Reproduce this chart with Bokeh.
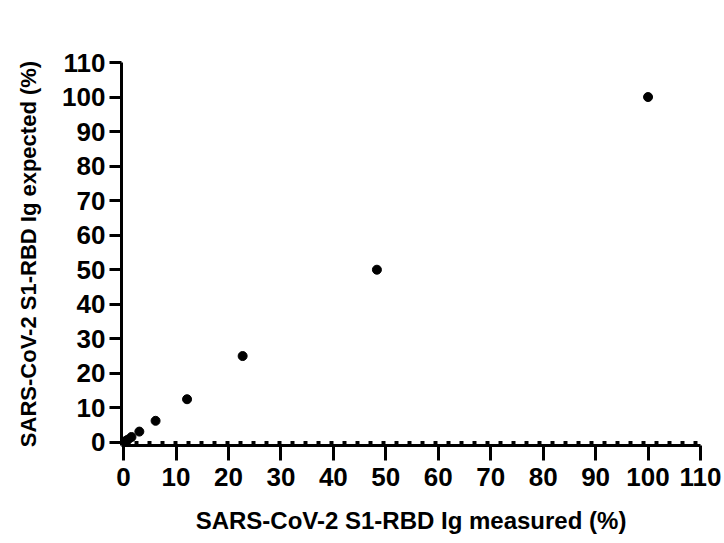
from bokeh.plotting import figure
from bokeh.models import Range1d, FixedTicker, Span
from bokeh.embed import file_html
from bokeh.resources import INLINE

measured = [100, 48.3, 22.7, 12.1, 6.1, 3.0, 1.5, 0.8, 0.4]
expected = [100, 50, 25, 12.5, 6.25, 3.13, 1.56, 0.78, 0.39]
ticks = list(range(0, 111, 10))

p = figure(width=724, height=543, output_backend="svg", toolbar_location=None,
           x_range=Range1d(-0.4, 110), y_range=Range1d(-0.9, 110),
           min_border_left=121, min_border_right=24, min_border_top=62, min_border_bottom=98)
p.outline_line_color = None
p.grid.grid_line_color = None
p.background_fill_color = "white"

p.add_layout(Span(location=0, dimension="width", line_color="black",
                  line_width=3, line_dash="4 9"))

p.scatter(measured, expected, size=9, color="black")

for ax in (p.xaxis, p.yaxis):
    ax.ticker = FixedTicker(ticks=ticks)
    ax.axis_line_width = 3
    ax.major_tick_line_width = 3
    ax.minor_tick_line_color = None
    ax.major_tick_in = 0
    ax.major_label_text_font = "Liberation Sans"
    ax.major_label_text_font_style = "bold"
    ax.major_label_text_font_size = "26px"
    ax.major_label_text_color = "black"
    ax.axis_label_text_font = "Liberation Sans"
    ax.axis_label_text_font_style = "bold"
    ax.axis_label_text_color = "black"

p.xaxis.axis_label_text_font_size = "24px"
p.yaxis.axis_label_text_font_size = "22px"
p.xaxis.major_tick_out = 15
p.yaxis.major_tick_out = 12
p.xaxis.major_label_standoff = 7
p.yaxis.major_label_standoff = 4
p.xaxis.axis_label = "SARS-CoV-2 S1-RBD Ig measured (%)"
p.yaxis.axis_label = "SARS-CoV-2 S1-RBD Ig expected (%)"
p.xaxis.axis_label_standoff = 18
p.yaxis.axis_label_standoff = 18

open("out.html", "w").write(file_html(p, INLINE))
